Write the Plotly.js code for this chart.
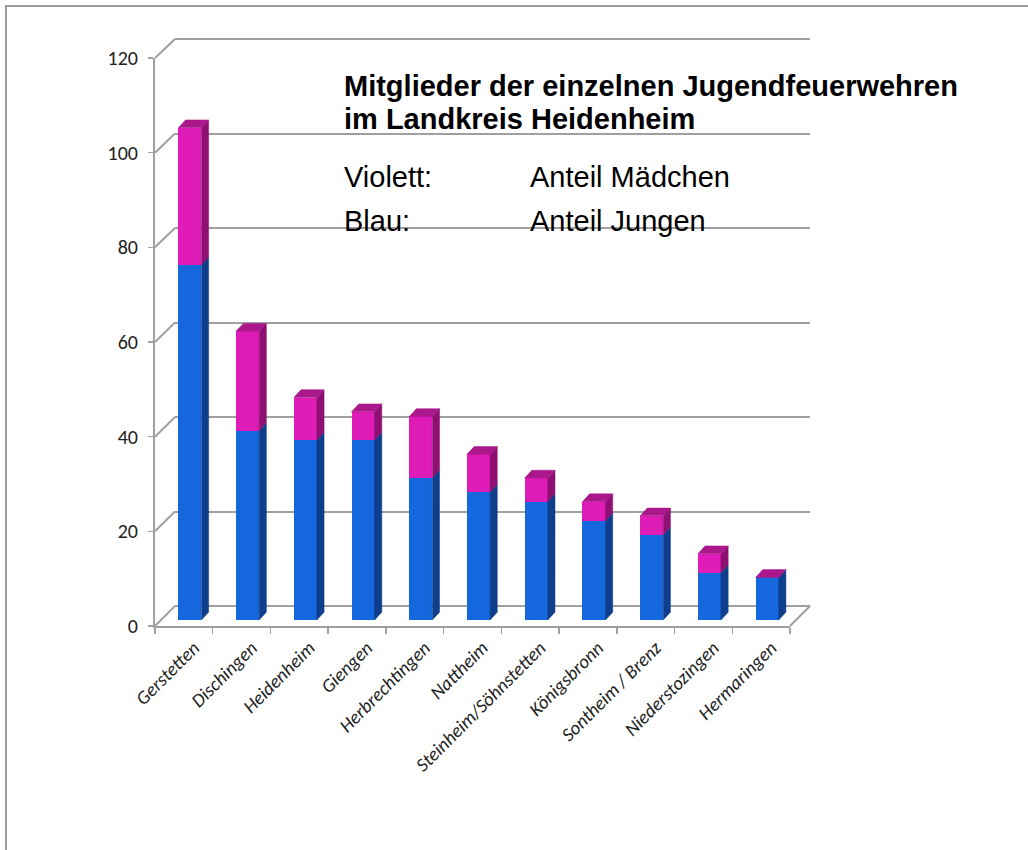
<!DOCTYPE html>
<html>
<head>
<meta charset="utf-8">
<script src="https://cdn.plot.ly/plotly-3.0.1.min.js"></script>
<style>
  html, body { margin: 0; padding: 0; background: #fff; }
  #wrap { position: relative; width: 1028px; height: 850px; overflow: hidden; }
  #chart { position: absolute; left: 0; top: 0; width: 1028px; height: 850px; }
  #frame { position: absolute; left: 5px; top: 5px; width: 1040px; height: 860px;
           border-top: 2px solid #9a9a9a; border-left: 2px solid #9a9a9a; pointer-events: none; }
</style>
</head>
<body>
<div id="wrap">
  <div id="chart"></div>
  <div id="frame"></div>
</div>
<script>
// ---- data ----
const categories = ['Gerstetten', 'Dischingen', 'Heidenheim', 'Giengen', 'Herbrechtingen', 'Nattheim',
  'Steinheim/Söhnstetten', 'Königsbronn', 'Sontheim / Brenz', 'Niederstozingen', 'Hermaringen'];
const jungen   = [75, 40, 38, 38, 30, 27, 25, 21, 18, 10, 9];   // blau
const maedchen = [29, 21,  9,  6, 13,  8,  5,  4,  4,  4, 0];   // violett
const yTicks = [0, 20, 40, 60, 80, 100, 120];

const titleLine1 = 'Mitglieder der einzelnen Jugendfeuerwehren';
const titleLine2 = 'im Landkreis Heidenheim';
const legendKeys = ['Violett:', 'Blau:'];
const legendVals = ['Anteil Mädchen', 'Anteil Jungen'];

// ---- styling constants ----
const W = 0.4, DX = 0.125, DY = 1.65;
const BLUE = '#1467dc', BLUE_SIDE = '#0e3e8c';
const MAG = '#e01cb8', MAG_SIDE = '#8e1072', MAG_TOP = '#aa188c';
const GRID = '#a0a0a0';

const idx = categories.map((_, i) => i);
const totals = idx.map(i => jungen[i] + maedchen[i]);

// side and top faces built from the data
const bsx = [], bsy = [], msx = [], msy = [], tx = [], ty = [];
idx.forEach(i => {
  const r = i + W / 2, l = i - W / 2, b = jungen[i], t = totals[i];
  bsx.push(r, r + DX, r + DX, r, r, null); bsy.push(0, DY, b + DY, b, 0, null);
  if (maedchen[i] > 0) {
    msx.push(r, r + DX, r + DX, r, r, null); msy.push(b, b + DY, t + DY, t, b, null);
  }
  tx.push(l, l + DX, r + DX, r, l, null); ty.push(t, t + DY, t + DY, t, t, null);
});

const faceTrace = (x, y, color) => ({
  type: 'scatter', mode: 'lines', x: x, y: y, fill: 'toself', fillcolor: color,
  line: {width: 0.5, color: color}, xaxis: 'x3', yaxis: 'y3', hoverinfo: 'skip',
  showlegend: false, cliponaxis: false
});

const data = [
  {type: 'scatter', x: [], y: [], xaxis: 'x', yaxis: 'y', showlegend: false},
  {type: 'scatter', x: [], y: [], xaxis: 'x2', yaxis: 'y2', showlegend: false},
  {type: 'bar', x: idx, y: jungen, width: W, marker: {color: BLUE, line: {width: 0}},
   xaxis: 'x3', yaxis: 'y3', name: 'Jungen', showlegend: false},
  {type: 'bar', x: idx, y: maedchen, width: W, marker: {color: MAG, line: {width: 0}},
   xaxis: 'x3', yaxis: 'y3', name: 'Mädchen', showlegend: false},
  faceTrace(bsx, bsy, BLUE_SIDE),
  faceTrace(msx, msy, MAG_SIDE),
  faceTrace(tx, ty, MAG_TOP)
];

// ---- geometry (plot area 155..810 x 39..626 px) ----
const PW = 655, PH = 587;
const frontXEnd = (790 - 155) / PW;
const backX0 = 20 / PW;
const frontYTop = 568 / PH;
const backY0 = 20 / PH;
const frontY = v => v / 120 * frontYTop;
const backY = v => backY0 + v / 120 * (1 - backY0);

const shapes = yTicks.map(v => ({
  type: 'line', xref: 'paper', yref: 'paper', x0: 0, y0: frontY(v), x1: backX0, y1: backY(v),
  line: {color: GRID, width: 2}, layer: 'below'
}));
shapes.push({type: 'line', xref: 'paper', yref: 'paper', x0: frontXEnd, y0: 0, x1: 1, y1: backY0,
  line: {color: GRID, width: 2}, layer: 'below'});
shapes.push({type: 'line', xref: 'paper', yref: 'paper', x0: backX0, y0: 1, x1: 1, y1: 1,
  line: {color: GRID, width: 2}, layer: 'below'});

const boundaries = idx.map(i => i - 0.5).concat([categories.length - 0.5]);
const yFont = {family: 'Carlito, Lato, Roboto, sans-serif', size: 20, color: '#222'};
const xFont = {family: 'Carlito, Lato, Roboto, sans-serif', size: 19, color: '#222', style: 'italic'};

const TF = 'Liberation Sans, Arial, sans-serif';
const px2x = p => (p - 155) / PW;
const px2y = p => (626 - p) / PH;
const annotations = [
  {text: '<b>' + titleLine1 + '</b>', x: px2x(342), y: px2y(86)},
  {text: '<b>' + titleLine2 + '</b>', x: px2x(342), y: px2y(119)},
  {text: legendKeys[0], x: px2x(342), y: px2y(177)},
  {text: legendVals[0], x: px2x(528), y: px2y(177)},
  {text: legendKeys[1], x: px2x(342), y: px2y(221)},
  {text: legendVals[1], x: px2x(528), y: px2y(221)}
].map(a => Object.assign({xref: 'paper', yref: 'paper', xanchor: 'left', yanchor: 'middle',
  showarrow: false, font: {family: TF, size: 29, color: '#000'}}, a));

const layout = {
  width: 1028, height: 850,
  margin: {l: 155, r: 218, t: 39, b: 224},
  paper_bgcolor: '#fff', plot_bgcolor: 'rgba(0,0,0,0)',
  barmode: 'stack', bargap: 0, showlegend: false,
  xaxis: {domain: [0, frontXEnd], range: [-0.5, categories.length - 0.5], anchor: 'y',
    tickvals: boundaries, showticklabels: false, ticks: 'outside', ticklen: 6, tickwidth: 1.5,
    tickcolor: GRID, showline: true, linecolor: GRID, linewidth: 2, showgrid: false, zeroline: false},
  yaxis: {domain: [0, frontYTop], range: [0, 120], anchor: 'x', tickvals: yTicks,
    ticks: 'outside', ticklen: 5, tickwidth: 1.5, tickcolor: GRID, showline: true, linecolor: GRID,
    linewidth: 2, showgrid: false, zeroline: false, tickfont: yFont, ticklabelstandoff: 6},
  xaxis2: {domain: [backX0, 1], range: [0, 1], anchor: 'y2', visible: false},
  yaxis2: {domain: [backY0, 1], range: [0, 120], anchor: 'x2', tickvals: yTicks,
    showticklabels: false, ticks: '', showgrid: true, gridcolor: GRID, gridwidth: 2,
    zeroline: true, zerolinecolor: GRID, zerolinewidth: 2, showline: false},
  xaxis3: {domain: [6 / PW, (641) / PW], range: [-0.5, categories.length - 0.5], anchor: 'y3',
    tickvals: idx, ticktext: categories, tickangle: -45,
    ticks: '', showline: false, showgrid: false, zeroline: false, tickfont: xFont,
    ticklabelstandoff: 12, ticklabelshift: 4},
  yaxis3: {domain: [6 / PH, 574 / PH], range: [0, 120], anchor: 'x3', visible: false},
  shapes: shapes,
  annotations: annotations
};

Plotly.newPlot('chart', data, layout, {displayModeBar: false, staticPlot: true});
</script>
</body>
</html>
